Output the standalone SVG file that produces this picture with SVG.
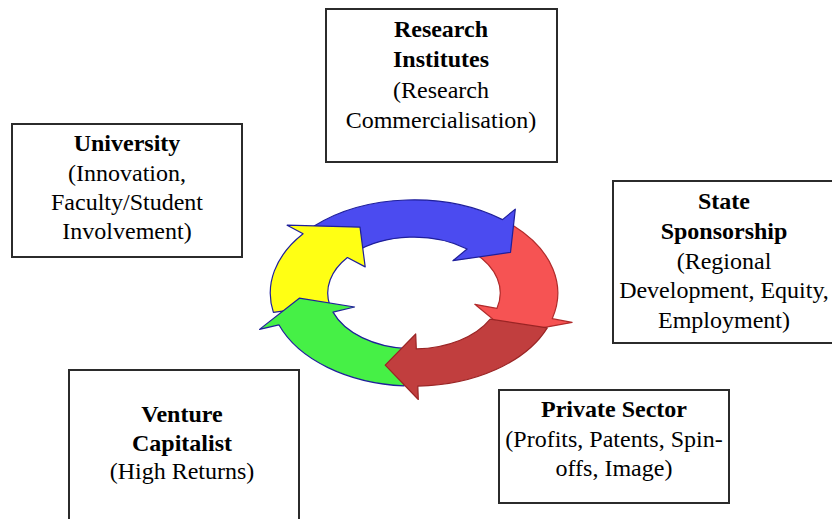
<svg xmlns="http://www.w3.org/2000/svg" width="832" height="519" viewBox="0 0 832 519">
<style>
.box{fill:#fff;stroke:#2b2b2b;stroke-width:2}
.t{font-family:'Liberation Serif','Times New Roman',serif;font-size:24px;fill:#000;text-anchor:middle}
.b{font-weight:bold}
.arr{stroke-width:1.2;stroke-linejoin:round}
</style>
<rect width="832" height="519" fill="#fff"/>
<g id="connectors">
<path class="arr" fill="#f65353" stroke="#b02a2a" d="M 513.9 226.0 A 143.75 93.125 0 0 1 552.2 318.7 L 572.1 322.4 L 510.5 333.6 L 474.8 304.3 L 496.9 308.4 A 86.25 55.875 0 0 0 473.9 252.8 Z"/>
<path class="arr" fill="#4b4bf0" stroke="#1f1f9a" d="M 314.1 226.0 A 143.75 93.125 0 0 1 502.5 219.6 L 515.3 209.1 L 510.5 252.4 L 452.9 260.7 L 467.1 249.0 A 86.25 55.875 0 0 0 354.1 252.8 Z"/>
<path class="arr" fill="#ffff14" stroke="#1f1f9a" d="M 273.4 312.4 A 143.75 93.125 0 0 1 303.1 233.8 L 287.1 225.2 L 360.0 227.2 L 365.2 266.9 L 347.4 257.5 A 86.25 55.875 0 0 0 329.6 304.6 Z"/>
<path class="arr" fill="#46f046" stroke="#1f1f9a" d="M 404.0 385.9 A 143.75 93.125 0 0 1 278.9 324.8 L 259.5 329.4 L 299.3 298.2 L 354.6 307.0 L 333.0 312.1 A 86.25 55.875 0 0 0 408.0 348.7 Z"/>
<path class="arr" fill="#c13e3e" stroke="#9a2424" d="M 547.3 327.9 A 143.75 93.125 0 0 1 417.8 386.1 L 418.3 399.5 L 385.2 365.1 L 415.7 334.0 L 416.3 348.9 A 86.25 55.875 0 0 0 490.2 319.2 Z"/>
</g>
<g id="research-institutes">
<rect class="box" x="326" y="9" width="231" height="153"/>
<text x="441" y="37" class="t b">Research</text>
<text x="441" y="67" class="t b">Institutes</text>
<text x="441" y="98" class="t">(Research</text>
<text x="441" y="128" class="t">Commercialisation)</text>
</g>
<g id="university">
<rect class="box" x="12" y="124" width="230" height="133"/>
<text x="127" y="151" class="t b">University</text>
<text x="127" y="181" class="t">(Innovation,</text>
<text x="127" y="210" class="t">Faculty/Student</text>
<text x="127" y="239" class="t">Involvement)</text>
</g>
<g id="state-sponsorship">
<rect class="box" x="613" y="181" width="222" height="162"/>
<text x="724" y="209" class="t b">State</text>
<text x="724" y="239" class="t b">Sponsorship</text>
<text x="724" y="269" class="t">(Regional</text>
<text x="724" y="298" class="t">Development, Equity,</text>
<text x="724" y="328" class="t">Employment)</text>
</g>
<g id="venture-capitalist">
<rect class="box" x="69" y="370" width="230" height="160"/>
<text x="182" y="422" class="t b">Venture</text>
<text x="182" y="451" class="t b">Capitalist</text>
<text x="182" y="479" class="t">(High Returns)</text>
</g>
<g id="private-sector">
<rect class="box" x="499" y="390" width="230" height="113"/>
<text x="614" y="417" class="t b">Private Sector</text>
<text x="614" y="447" class="t">(Profits, Patents, Spin-</text>
<text x="614" y="476" class="t">offs, Image)</text>
</g>
</svg>
